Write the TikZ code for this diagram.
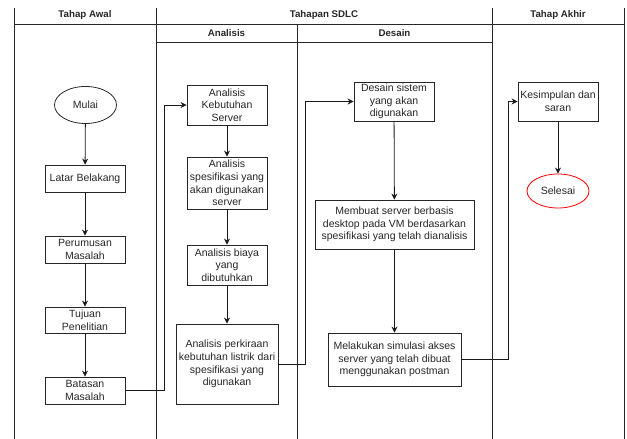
\documentclass[tikz,border=0pt]{standalone}
\usepackage{fontspec}
\setmainfont{Liberation Sans}
\usetikzlibrary{arrows.meta,shapes.geometric,calc}
\begin{document}
\begin{tikzpicture}[x=1pt,y=-1pt,
  lane/.style={draw=black!85,line width=0.9pt},
  box/.style={draw=black!85,line width=0.8pt,align=center,inner sep=1pt,
    font=\fontsize{10.5}{12.6}\selectfont,text=black!85},
  oval/.style={ellipse,draw=black!85,line width=0.8pt,inner sep=0pt,
    font=\fontsize{10.5}{12.6}\selectfont,text=black!85},
  hdr/.style={font=\fontsize{9.7}{11}\selectfont\bfseries,text=black!85},
  arr/.style={draw=black!90,line width=0.8pt,-{Stealth[length=6pt,width=6pt]}}
]
\useasboundingbox (0,0) rectangle (627,439);
% swimlanes
\draw[lane] (14,8) -- (14,439);
\draw[lane] (156,8) -- (156,439);
\draw[lane] (492,8) -- (492,439);
\draw[lane] (624,8) -- (624,439);
\draw[lane] (297,24) -- (297,439);
\draw[lane] (14,24) -- (624,24);
\draw[lane] (156,42) -- (492,42);
\node[hdr] (h1) at (85,15) {Tahap Awal};
\node[hdr] (h2) at (324,15) {Tahapan SDLC};
\node[hdr] (h3) at (558,15) {Tahap Akhir};
\node[hdr] (h4) at (226.5,33) {Analisis};
\node[hdr] (h5) at (394.5,33) {Desain};
% Tahap Awal
\node[oval,minimum width=62pt,minimum height=37pt] (mulai) at (85.5,105) {Mulai};
\node[box,minimum width=80pt,minimum height=27pt] (lb) at (85,178.5) {Latar Belakang};
\node[box,minimum width=80pt,minimum height=27pt] (pm) at (85,249.5) {Perumusan\\Masalah};
\node[box,minimum width=80pt,minimum height=26pt] (tp) at (85,320) {Tujuan\\Penelitian};
\node[box,minimum width=80pt,minimum height=27pt] (bm) at (85,390.5) {Batasan\\Masalah};
% Analisis
\node[box,minimum width=80pt,minimum height=40pt] (aks) at (227,105) {Analisis\\Kebutuhan\\Server};
\node[box,minimum width=80pt,minimum height=52pt] (as) at (227,183) {Analisis\\spesifikasi yang\\akan digunakan\\server};
\node[box,minimum width=80pt,minimum height=40pt] (ab) at (227,265) {Analisis biaya\\yang\\dibutuhkan};
\node[box,minimum width=102pt,minimum height=80pt] (ap) at (227,364) {Analisis perkiraan\\kebutuhan listrik dari\\spesifikasi yang\\digunakan};
% Desain
\node[box,minimum width=80pt,minimum height=39pt] (ds) at (394,101.5) {Desain sistem\\yang akan\\digunakan};
\node[box,minimum width=159pt,minimum height=49pt] (ms) at (394.5,224.5) {Membuat server berbasis\\desktop pada VM berdasarkan\\spesifikasi yang telah dianalisis};
\node[box,minimum width=133pt,minimum height=53pt] (ml) at (394.5,359.5) {Melakukan simulasi akses\\server yang telah dibuat\\menggunakan postman};
% Tahap Akhir
\node[box,minimum width=80pt,minimum height=39pt] (ks) at (558,101.5) {Kesimpulan dan\\saran};
\node[oval,draw=red,minimum width=62pt,minimum height=34pt] (sel) at (558,191) {Selesai};
% connectors
\draw[arr] (mulai) -- (lb);
\draw[arr] (lb) -- (pm);
\draw[arr] (pm) -- (tp);
\draw[arr] (tp) -- (bm);
\draw[arr] (bm.east) -| ([xshift=-22pt]aks.west) -- (aks.west);
\draw[arr] (aks) -- (as);
\draw[arr] (as) -- (ab);
\draw[arr] (ab) -- (ap);
\draw[arr] (ap.east) -| ([xshift=-48pt]ds.west) -- (ds.west);
\draw[arr] (ds) -- (ms);
\draw[arr] (ms) -- (ml);
\draw[arr] (ml.east) -| ([xshift=-9pt]ks.west) -- (ks.west);
\draw[arr] (ks) -- (sel);
\end{tikzpicture}
\end{document}
